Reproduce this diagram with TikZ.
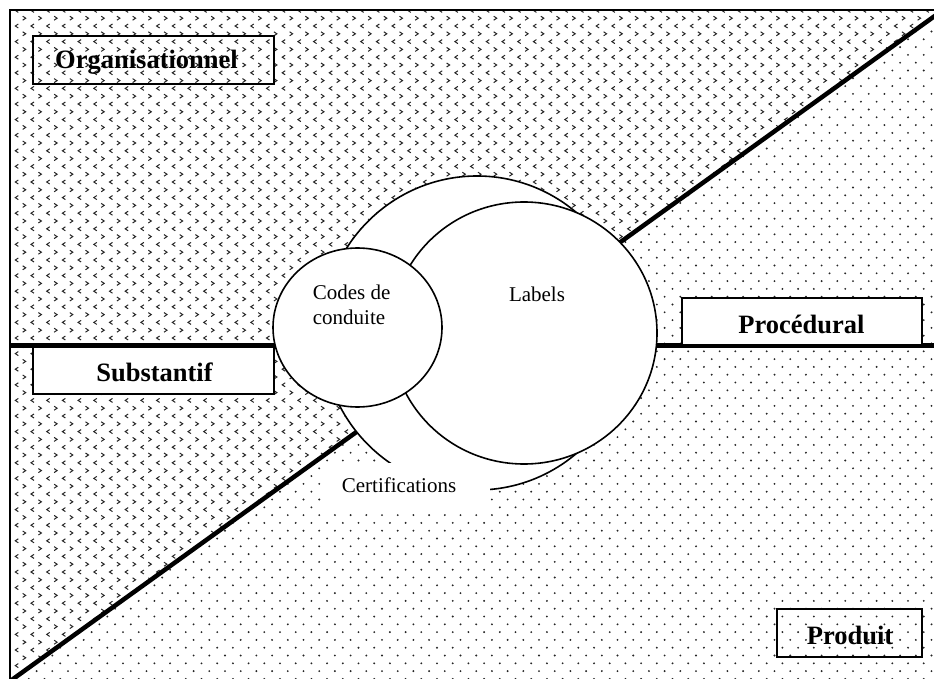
\documentclass[tikz,border=0pt]{standalone}
\usepackage{fontspec}
\setmainfont{Liberation Serif}
\usetikzlibrary{shapes.geometric}
\begin{document}
\begin{tikzpicture}[x=1pt,y=-1pt,
  frameline/.style={line width=2pt},
  axisline/.style={line width=4.5pt},
  bubble/.style={ellipse, draw, line width=1.6pt, fill=white, inner sep=0pt},
  tagbox/.style={rectangle, draw, line width=1.7pt, inner sep=0pt},
  tagtext/.style={font=\fontsize{26.5}{30}\selectfont\bfseries, inner sep=0pt, anchor=base},
  bubbletext/.style={font=\fontsize{21}{24.7}\selectfont, inner sep=0pt, anchor=base},
  chevron/.style={line width=1pt, black!85},
  dotmark/.style={fill=black!85},
]
\useasboundingbox (0,0) rectangle (934,679);
\clip (0,0) rectangle (934,679);

% upper-left half: rows of small chevrons
\begin{scope}
  \clip (10,10) -- (943,10) -- (13,679) -- (10,679) -- cycle;
  \foreach \j in {0,...,43} {
    \draw[chevron] \foreach \i in {0,...,60} {
      (1.1+15.7*\i+1.5, 10.4+15.6*\j-2) -- ++(-3,2) -- ++(3,2)
      (8.5+15.7*\i-1.5, 18.2+15.6*\j-2) -- ++(3,2) -- ++(-3,2)
    };
  }
\end{scope}

% lower-right half: sparse dots
\begin{scope}
  \clip (943,10) -- (950,10) -- (950,690) -- (-2.3,690) -- cycle;
  \foreach \j in {0,...,44} {
    \fill[dotmark] \foreach \i in {-1,...,60} {
      (5.2+15.7*\i, 0.3+15.6*\j) circle (1.05)
      (13.1+15.7*\i, 8.1+15.6*\j) circle (1.05)
    };
  }
\end{scope}

% axes
\coordinate (diagLow) at (4.7,685);
\coordinate (diagHigh) at (940.3,12);
\coordinate (horLeft) at (10,345.5);
\coordinate (horRight) at (940,345.5);
\draw[axisline] (diagLow) -- (diagHigh);
\draw[axisline] (horLeft) -- (horRight);

% frame
\coordinate (frameBL) at (10,690);
\coordinate (frameTL) at (10,10);
\coordinate (frameTR) at (945,10);
\draw[frameline] (frameBL) -- (frameTL) -- (frameTR);

% overlapping sets
\node[bubble, minimum width=310pt, minimum height=314pt] (cert) at (477,333) {};
\node[bubble, minimum width=266pt, minimum height=262pt] (labels) at (524,333) {};
\node[bubble, minimum width=169pt, minimum height=159pt] (codes) at (357.5,327.5) {};

\node[fill=white, inner sep=0pt, minimum width=168pt, minimum height=48pt] (certpatch) at (406,487) {};
\node[bubbletext] (certtxt) at (399,492.7) {Certifications};
\node[bubbletext] (labelstxt) at (537,301.7) {Labels};
\node[bubbletext, anchor=base west] (codestxtA) at (312.7,299.3) {Codes de};
\node[bubbletext, anchor=base west] (codestxtB) at (312.7,324) {conduite};

% axis labels
\node[tagbox, minimum width=241pt, minimum height=48pt] (orgbox) at (153.5,60) {};
\node[tagtext] (orgtxt) at (146.5,69) {Organisationnel};

\node[tagbox, fill=white, minimum width=241pt, minimum height=47pt] (subbox) at (153.5,370.5) {};
\node[tagtext] (subtxt) at (154.5,381.7) {Substantif};

\node[tagbox, fill=white, minimum width=240pt, minimum height=47pt] (procbox) at (802,321.5) {};
\node[tagtext] (proctxt) at (801.5,333.3) {Procédural};

\node[tagbox, minimum width=145pt, minimum height=48pt] (prodbox) at (849.5,633) {};
\node[tagtext] (prodtxt) at (850,644.3) {Produit};
\end{tikzpicture}
\end{document}
